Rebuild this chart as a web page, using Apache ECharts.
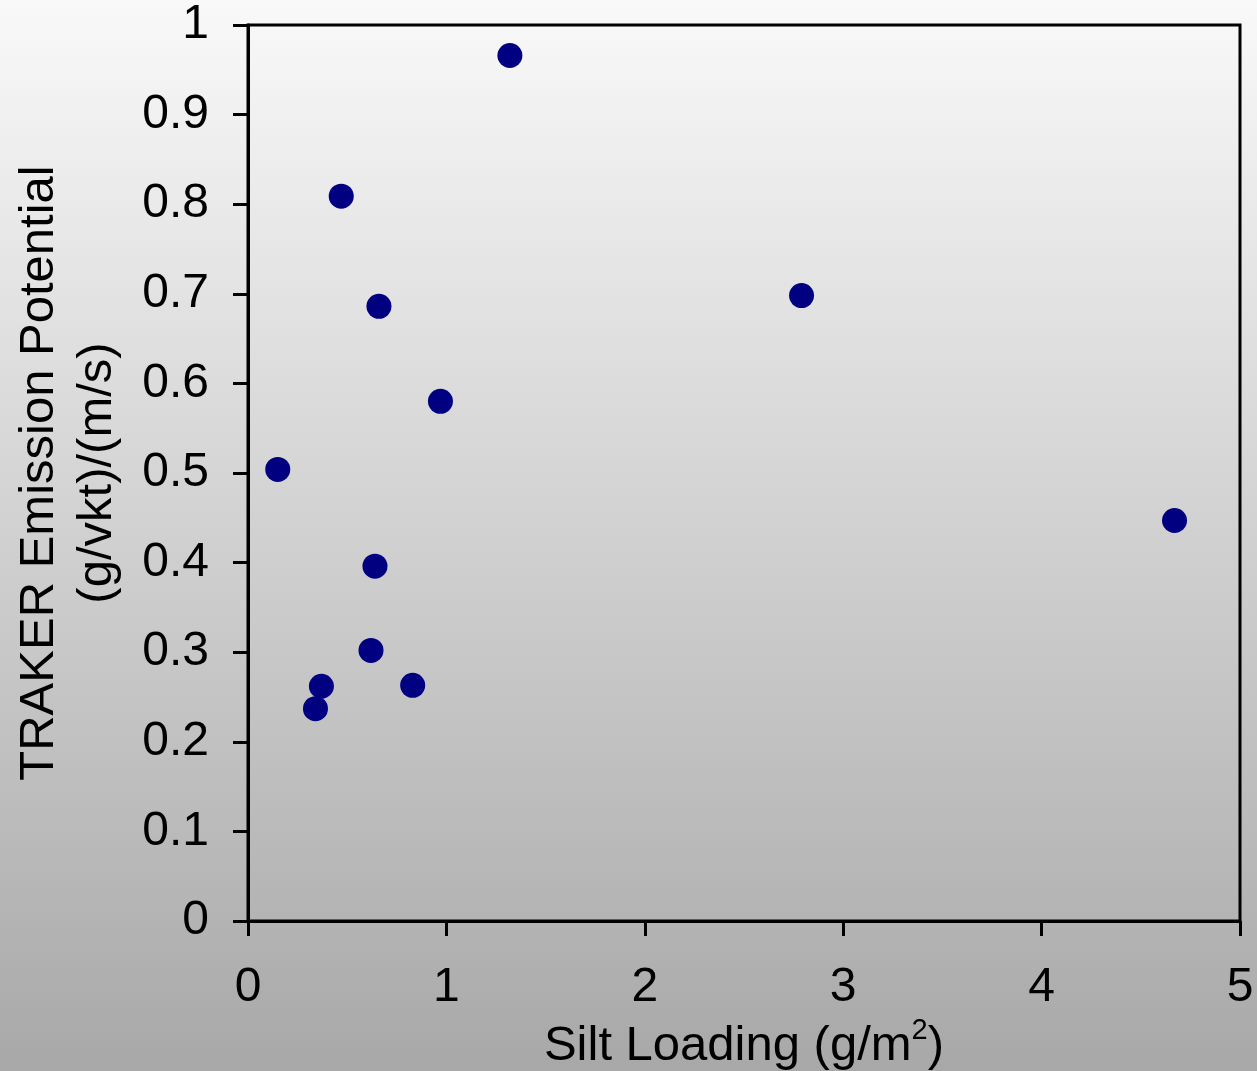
<!DOCTYPE html>
<html>
<head>
<meta charset="utf-8">
<script src="https://cdn.jsdelivr.net/npm/echarts@6/dist/echarts.min.js"></script>
<style>
  html, body { margin: 0; padding: 0; }
  #chart { width: 1257px; height: 1071px; }
</style>
</head>
<body>
<div id="chart"></div>
<script>
// silt loading (g/m2) vs TRAKER emission potential
var siltLoading = [1.32, 0.47, 0.66, 2.79, 0.97, 0.15, 4.67, 0.64, 0.62, 0.37, 0.83, 0.34];
var emissionPotential = [0.966, 0.809, 0.686, 0.698, 0.580, 0.504, 0.447, 0.396, 0.302, 0.262, 0.263, 0.237];
var xTicks = [0, 1, 2, 3, 4, 5];
var yTicks = [0, 0.1, 0.2, 0.3, 0.4, 0.5, 0.6, 0.7, 0.8, 0.9, 1];

var points = siltLoading.map(function (x, i) { return [x, emissionPotential[i]]; });

var font = '"Liberation Sans", Arial, sans-serif';
var chart = echarts.init(document.getElementById('chart'));
chart.setOption({
  animation: false,
  backgroundColor: {
    type: 'linear', x: 0, y: 0, x2: 0, y2: 1,
    colorStops: [{ offset: 0, color: '#f9f9f9' }, { offset: 1, color: '#a8a8a8' }]
  },
  grid: {
    left: 248, top: 25, right: 17, bottom: 150,
    outerBoundsMode: 'none', containLabel: false,
    show: true, borderColor: '#000', borderWidth: 3, backgroundColor: 'transparent'
  },
  xAxis: {
    type: 'value',
    min: xTicks[0], max: xTicks[xTicks.length - 1], interval: 1,
    axisLine: { lineStyle: { color: '#000', width: 3 } },
    axisTick: { show: true, inside: false, length: 15, lineStyle: { color: '#000', width: 3 } },
    splitLine: { show: false },
    axisLabel: { color: '#000', fontSize: 48, fontFamily: font, margin: 43 },
    name: '{t|Silt Loading (g/m}{s|2}{t|)}',
    nameLocation: 'middle',
    nameGap: 88,
    nameTextStyle: {
      rich: {
        t: { fontSize: 49, fontFamily: font, color: '#000', lineHeight: 60 },
        s: { fontSize: 29, fontFamily: font, color: '#000', lineHeight: 29, verticalAlign: 'top' }
      }
    }
  },
  yAxis: {
    type: 'value',
    min: yTicks[0], max: yTicks[yTicks.length - 1], interval: 0.1,
    axisLine: { lineStyle: { color: '#000', width: 3 } },
    axisTick: { show: true, inside: false, length: 15, lineStyle: { color: '#000', width: 3 } },
    splitLine: { show: false },
    axisLabel: {
      color: '#000', fontSize: 48, fontFamily: font, margin: 39,
      formatter: function (v) { return String(Math.round(v * 10) / 10); }
    },
    name: 'TRAKER Emission Potential\n(g/vkt)/(m/s)',
    nameLocation: 'middle',
    nameRotate: 90,
    nameGap: 122,
    nameTextStyle: { color: '#000', fontSize: 49, fontFamily: font, lineHeight: 58, align: 'center' }
  },
  series: [{
    type: 'scatter',
    data: points,
    symbol: 'circle',
    symbolSize: 25,
    itemStyle: { color: '#000080', opacity: 1 }
  }]
});
</script>
</body>
</html>
